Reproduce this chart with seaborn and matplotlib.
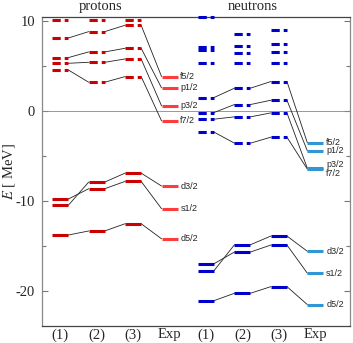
import numpy as np
import pandas as pd
import seaborn as sns
import matplotlib.pyplot as plt
from matplotlib.ticker import MultipleLocator

# columns: (1), (2), (3), Exp
orbitals_fp = ["f5/2", "p1/2", "p3/2", "f7/2"]
orbitals_sd = ["d3/2", "s1/2", "d5/2"]

proton_fp = [
    [8.14, 8.85, 9.56, 3.85],
    [5.96, 6.59, 7.00, 2.59],
    [5.33, 5.44, 5.81, 0.59],
    [4.59, 3.22, 3.85, -1.08],
]
proton_sd = [
    [-10.48, -7.89, -6.89, -8.33],
    [-9.78, -8.63, -7.81, -10.85],
    [-13.78, -13.33, -12.52, -14.20],
]
proton_extra = [[10.17], [10.10], [10.19]]

neutron_fp = [
    [1.52, 2.56, 3.30, -3.52],
    [-0.15, 0.74, 1.22, -4.41],
    [-0.89, -0.63, -0.19, -6.35],
    [-2.33, -3.56, -2.89, -6.45],
]
neutron_sd = [
    [-17.74, -14.86, -13.89, -15.59],
    [-16.97, -15.67, -14.89, -18.03],
    [-21.08, -20.26, -19.52, -21.52],
]
neutron_extra = [[10.45, 7.10, 6.85, 5.41], [8.63, 7.26, 6.52, 5.33], [9.04, 7.44, 6.56, 5.37]]

columns = ["(1)", "(2)", "(3)", "Exp"]
groups = ["protons", "neutrons"]

# label nudges (in MeV) for crowded experimental levels
label_nudge = {("neutrons", "p3/2"): 0.45, ("neutrons", "f7/2"): -0.45}

sns.set_theme(style="ticks")
plt.rcParams["font.family"] = ["Liberation Serif", "DejaVu Serif"]
plt.rcParams["mathtext.fontset"] = "stix"
plt.rcParams["axes.unicode_minus"] = False

colors = {
    "protons": ("#cc0000", "#ff3c3c"),
    "neutrons": ("#0000cc", "#3296d2"),
}

fig = plt.figure(figsize=(3.53, 3.43), dpi=100)
ax = fig.add_axes([0.119, 0.0496, 0.8725, 0.9014])

hw = 0.22
lw = 2.2
dash = (0, (2.7, 1.3))

data = {
    "protons": (proton_fp, proton_sd, proton_extra),
    "neutrons": (neutron_fp, neutron_sd, neutron_extra),
}

for g, name in enumerate(groups):
    fp, sd, extra = data[name]
    c_th, c_exp = colors[name]
    xs = np.arange(4) + 1 + 4 * g
    for chains, style, orbs in [(fp, dash, orbitals_fp), (sd, "-", orbitals_sd)]:
        for orb, chain in zip(orbs, chains):
            # connectors from right end of one level to left end of next
            for i in range(3):
                ax.plot([xs[i] + hw, xs[i + 1] - hw], [chain[i], chain[i + 1]],
                        color="#222222", lw=0.6, zorder=2)
            for i in range(3):
                ax.hlines(chain[i], xs[i] - hw, xs[i] + hw, color=c_th, lw=lw,
                          linestyles=[style], zorder=3, clip_on=False)
            ax.hlines(chain[3], xs[3] - hw, xs[3] + hw, color=c_exp, lw=lw, zorder=3)
            ax.annotate(orb, xy=(xs[3] + hw, chain[3] + label_nudge.get((name, orb), 0)),
                        xytext=(2, 0), textcoords="offset points", va="center", ha="left",
                        fontsize=6.5, family=["Liberation Sans", "DejaVu Sans"])
    for i, lv in enumerate(extra):
        for e in lv:
            ax.hlines(e, xs[i] - hw, xs[i] + hw, color=c_th, lw=lw,
                      linestyles=[dash], zorder=3, clip_on=False)

ax.axhline(0, color="#888888", lw=0.6, zorder=1)

ax.set_xlim(0.5, 8.95)
ax.set_ylim(-23.9, 10.5)
ax.set_xticks(np.arange(1, 9))
ax.set_xticklabels(columns * 2, fontsize=10.5)
ax.tick_params(axis="x", length=0, pad=1.5)
ax.yaxis.set_major_locator(MultipleLocator(10))
ax.yaxis.set_minor_locator(MultipleLocator(5))
ax.tick_params(axis="y", which="both", direction="in", left=True, right=True,
               color="#777777", labelsize=10.5, pad=5)
ax.tick_params(axis="y", which="major", length=4, width=0.8)
ax.tick_params(axis="y", which="minor", length=3, width=0.8)
ax.set_ylabel(r"$E$ [ MeV]", fontsize=10.5)
ax.yaxis.set_label_coords(-0.08, 0.5)

for side in ["left", "right"]:
    ax.spines[side].set_color("#888888")
for side in ["top", "bottom"]:
    ax.spines[side].set_color("#444444")
for s in ax.spines.values():
    s.set_linewidth(0.9)

for name, xc in zip(groups, [2.11, 6.27]):
    ax.annotate(name, xy=(xc, 1.0), xycoords=("data", "axes fraction"),
                xytext=(0, 2.5), textcoords="offset points", ha="center", va="bottom",
                fontsize=10.5)

fig.savefig("out.png", dpi=100)
